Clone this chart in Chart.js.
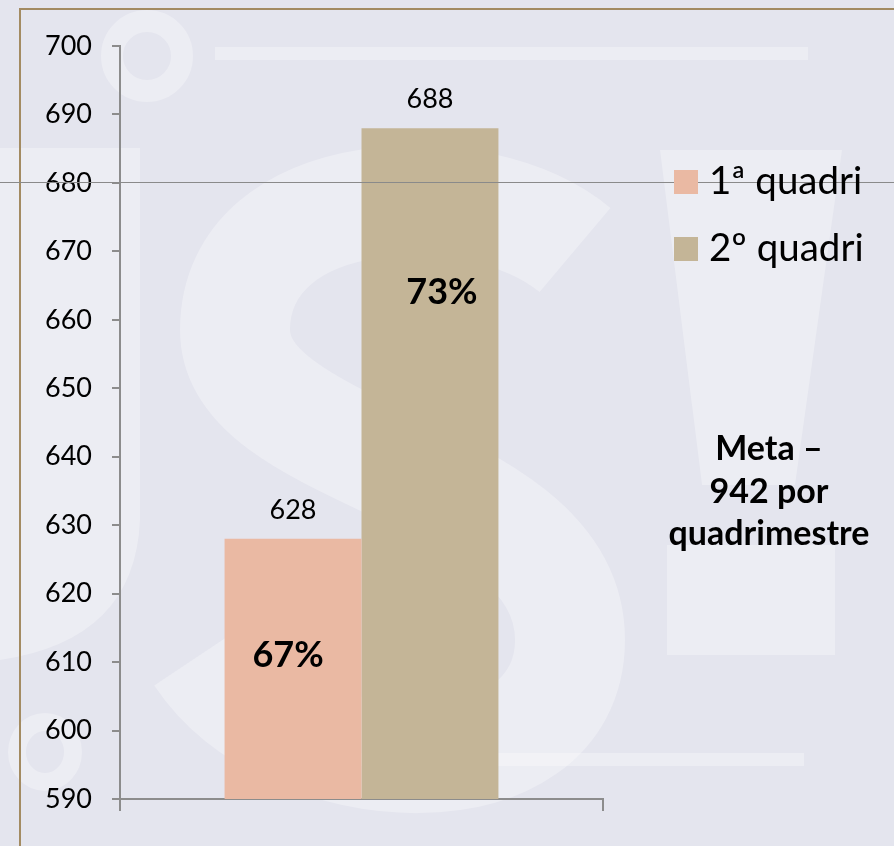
<!DOCTYPE html>
<html><head><meta charset="utf-8">
<script src="https://cdn.jsdelivr.net/npm/chart.js@4/dist/chart.umd.min.js"></script>
<style>html,body{margin:0;padding:0;background:#e4e5ee;}canvas{display:block;}</style>
</head><body>
<canvas id="c" width="894" height="846"></canvas>
<script>
const categories = [''];
const seriesNames = ['1ª quadri', '2º quadri'];
const values1 = [628];
const values2 = [688];
const percentLabels = ['67%', '73%'];
const percentAnchors = [611, 664];
const metaText = ['Meta –', '942 por', 'quadrimestre'];
const colors = ['#EAB9A3', '#C4B597'];
const FONT = 'Lato, "Open Sans", sans-serif';

const decor = {
  id: 'decor',
  beforeDraw(chart) {
    const ctx = chart.ctx;
    ctx.save();
    ctx.fillStyle = '#e4e5ee';
    ctx.fillRect(0, 0, chart.width, chart.height);
    // faint watermark shapes
    const wm = 'rgba(255,255,255,0.3)';
    ctx.fillStyle = wm;
    ctx.fillRect(215, 47, 593, 13);
    ctx.fillRect(320, 753, 484, 13);
    ctx.beginPath();
    ctx.moveTo(660, 150); ctx.lineTo(842, 150); ctx.lineTo(795, 485); ctx.lineTo(702, 485); ctx.closePath();
    ctx.fill();
    ctx.fillRect(667, 545, 168, 110);
    ctx.beginPath();
    ctx.moveTo(0, 148); ctx.lineTo(140, 148); ctx.lineTo(140, 520);
    ctx.quadraticCurveTo(135, 640, 0, 660); ctx.closePath();
    ctx.fill();
    ctx.strokeStyle = wm;
    ctx.lineWidth = 22;
    ctx.beginPath(); ctx.arc(147, 56, 35, 0, Math.PI * 2); ctx.stroke();
    ctx.lineWidth = 18;
    ctx.beginPath(); ctx.ellipse(45, 752, 28, 30, 0, 0, Math.PI * 2); ctx.stroke();
    ctx.lineWidth = 110;
    ctx.lineCap = 'butt';
    ctx.beginPath();
    ctx.moveTo(575, 250);
    ctx.bezierCurveTo(480, 170, 235, 180, 235, 330);
    ctx.bezierCurveTo(235, 460, 570, 470, 570, 640);
    ctx.bezierCurveTo(570, 800, 290, 790, 200, 655);
    ctx.stroke();
    // frame
    ctx.strokeStyle = '#a38b62';
    ctx.lineWidth = 2;
    ctx.beginPath();
    ctx.moveTo(20, 846); ctx.lineTo(20, 9); ctx.lineTo(894, 9);
    ctx.stroke();
    ctx.restore();
  },
  afterDraw(chart) {
    const ctx = chart.ctx;
    const y = chart.scales.y;
    ctx.save();
    chart.data.datasets.forEach((ds, i) => {
      const el = chart.getDatasetMeta(i).data[0];
      ctx.fillStyle = '#000';
      ctx.textAlign = 'center';
      ctx.textBaseline = 'alphabetic';
      ctx.font = '27px ' + FONT;
      ctx.fillText(String(ds.data[0]), el.x, el.y - 20);
      ctx.font = 'bold 36px ' + FONT;
      ctx.textBaseline = 'middle';
      ctx.fillText(percentLabels[i], el.x + (i === 0 ? -5 : 12), y.getPixelForValue(percentAnchors[i]));
    });
    // slide horizontal line
    ctx.strokeStyle = '#8a8a8a';
    ctx.lineWidth = 1;
    ctx.beginPath();
    ctx.moveTo(0, 182.5); ctx.lineTo(chart.width, 182.5);
    ctx.stroke();
    // legend
    chart.data.datasets.forEach((ds, i) => {
      const base = 194 + i * 67;
      ctx.fillStyle = ds.backgroundColor;
      ctx.fillRect(674, base - 24, 24, 24);
      ctx.fillStyle = '#000';
      ctx.font = '38.5px ' + FONT;
      ctx.textAlign = 'left';
      ctx.textBaseline = 'alphabetic';
      ctx.fillText(ds.label, 709, base);
    });
    // meta text
    ctx.font = 'bold 34px ' + FONT;
    ctx.textAlign = 'center';
    ctx.textBaseline = 'alphabetic';
    metaText.forEach((t, i) => ctx.fillText(t, 769, 460 + i * 42.5));
    ctx.restore();
  }
};

new Chart(document.getElementById('c'), {
  type: 'bar',
  data: {
    labels: categories,
    datasets: [
      { label: seriesNames[0], data: values1, backgroundColor: colors[0] },
      { label: seriesNames[1], data: values2, backgroundColor: colors[1] }
    ]
  },
  options: {
    responsive: false,
    animation: false,
    layout: { padding: { left: 0, right: 291, top: 46, bottom: 0 } },
    plugins: { legend: { display: false }, tooltip: { enabled: false } },
    datasets: { bar: { barPercentage: 1, categoryPercentage: 0.567 } },
    scales: {
      y: {
        min: 590, max: 700,
        afterFit: s => { s.width = 120; },
        ticks: { stepSize: 10, color: '#000', font: { family: FONT, size: 27 }, padding: 20 },
        grid: { drawOnChartArea: false, color: '#8c8c8c', tickLength: 8, lineWidth: 2 },
        border: { color: '#8c8c8c', width: 2 }
      },
      x: {
        afterFit: s => { s.height = 47; },
        ticks: { display: false },
        grid: { drawOnChartArea: false, color: '#8c8c8c', tickLength: 12, lineWidth: 2, offset: true },
        border: { color: '#8c8c8c', width: 2 }
      }
    }
  },
  plugins: [decor]
});
</script>
</body></html>
